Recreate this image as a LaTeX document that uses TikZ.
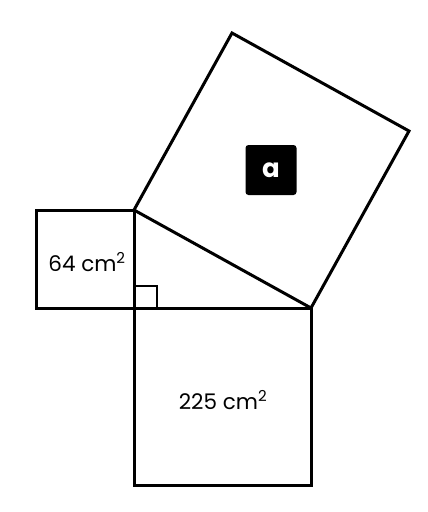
\documentclass[tikz,border=0pt]{standalone}
\usepackage{fontspec}
\setmainfont{Poppins}
\begin{document}
\begin{tikzpicture}[x=1pt,y=-1pt,
  edge/.style={line width=3pt,line join=miter},
  lbl/.style={font=\fontsize{21.5}{24}\selectfont,inner sep=0pt},
  tag/.style={fill=black,text=white,minimum width=51pt,minimum height=50pt,rounded corners=3pt,inner sep=0pt,font=\fontsize{26}{28}\selectfont\bfseries}]
\useasboundingbox (0,0) rectangle (428,512);
\coordinate (R) at (134,308);
\coordinate (A) at (134,210);
\coordinate (B) at (311,308);
\coordinate (S1) at (36,210);
\coordinate (S2) at (36,308);
\coordinate (Q1) at (134,485);
\coordinate (Q2) at (311,485);
\coordinate (H1) at (232,33);
\coordinate (H2) at (409,131);
\coordinate (M1) at (157,308);
\coordinate (M2) at (157,286);
\coordinate (M3) at (134,286);
\draw[edge] (A) -- (S1) -- (S2) -- (R) -- cycle;
\draw[edge] (R) -- (B) -- (Q2) -- (Q1) -- cycle;
\draw[edge] (A) -- (B) -- (H2) -- (H1) -- cycle;
\draw[edge,line width=2.4pt] (M3) -- (M2) -- (M1);
\node[lbl] (l64) at (87,262) {64 cm\textsuperscript{2}};
\node[lbl] (l225) at (223,400) {225 cm\textsuperscript{2}};
\node[tag] (a) at (271,170) {a};
\end{tikzpicture}
\end{document}
